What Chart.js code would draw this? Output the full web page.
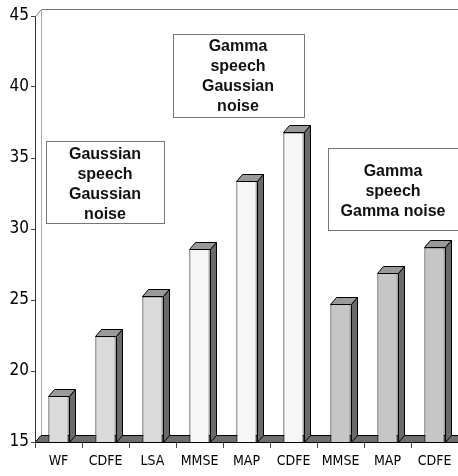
<!DOCTYPE html>
<html>
<head>
<meta charset="utf-8">
<script src="https://cdn.jsdelivr.net/npm/chart.js@4"></script>
<style>
  html, body { margin: 0; padding: 0; background: #ffffff; }
  #wrap { position: relative; width: 458px; height: 476px; }
</style>
</head>
<body>
<div id="wrap"><canvas id="c"></canvas></div>
<script>
// ---- data ----
const categories = ["WF", "CDFE", "LSA", "MMSE", "MAP", "CDFE", "MMSE", "MAP", "CDFE"];
const values = [18.25, 22.45, 25.25, 28.6, 33.4, 36.8, 24.7, 26.9, 28.7];
const groups = [0, 0, 0, 1, 1, 1, 2, 2, 2];
const yTicks = [15, 20, 25, 30, 35, 40, 45];
const box1Text = ["Gaussian", "speech", "Gaussian", "noise"];
const box2Text = ["Gamma", "speech", "Gaussian", "noise"];
const box3Text = ["Gamma", "speech", "Gamma noise"];

// ---- styles ----
const groupFill = ["#dadada", "#f6f6f6", "#c6c6c6"];
const DX = 6, DY = -7;

const threeD = {
  id: 'threeD',
  beforeDatasetsDraw(chart) {
    const ctx = chart.ctx, a = chart.chartArea;
    ctx.save();
    // back wall edges
    ctx.strokeStyle = '#777';
    ctx.lineWidth = 1;
    ctx.beginPath();
    ctx.moveTo(a.left + 0.5, a.top + 0.5);
    ctx.lineTo(a.left + DX + 0.5, a.top + DY + 0.5);
    ctx.lineTo(a.right + 10, a.top + DY + 0.5);
    ctx.stroke();
    ctx.strokeStyle = '#aaa';
    ctx.beginPath();
    ctx.moveTo(a.left + DX + 0.5, a.top + DY);
    ctx.lineTo(a.left + DX + 0.5, a.bottom + DY);
    ctx.stroke();
    // floor
    ctx.fillStyle = '#6f6f6f';
    ctx.strokeStyle = '#000';
    ctx.beginPath();
    ctx.moveTo(a.left, a.bottom + 0.5);
    ctx.lineTo(a.right + 10, a.bottom + 0.5);
    ctx.lineTo(a.right + 10, a.bottom + DY + 0.5);
    ctx.lineTo(a.left + DX, a.bottom + DY + 0.5);
    ctx.closePath();
    ctx.fill();
    ctx.stroke();
    ctx.restore();
  },
  afterDatasetsDraw(chart) {
    const ctx = chart.ctx, a = chart.chartArea;
    const meta = chart.getDatasetMeta(0);
    ctx.save();
    ctx.lineWidth = 1;
    ctx.strokeStyle = '#000';
    meta.data.forEach(bar => {
      const p = bar.getProps(['x', 'y', 'base', 'width'], true);
      const l = Math.round(p.x - p.width / 2) + 0.5;
      const r = Math.round(p.x + p.width / 2) + 0.5;
      const t = Math.round(p.y) + 0.5;
      const b = Math.round(Math.min(p.base, a.bottom)) + 0.5;
      // front outline bottom
      ctx.beginPath(); ctx.moveTo(l, b); ctx.lineTo(r, b); ctx.stroke();
      // top face
      ctx.fillStyle = '#9a9a9a';
      ctx.beginPath();
      ctx.moveTo(l, t); ctx.lineTo(r, t);
      ctx.lineTo(r + DX, t + DY); ctx.lineTo(l + DX, t + DY);
      ctx.closePath(); ctx.fill(); ctx.stroke();
      // side face
      ctx.fillStyle = '#6a6a6a';
      ctx.beginPath();
      ctx.moveTo(r, t); ctx.lineTo(r + DX, t + DY);
      ctx.lineTo(r + DX, b + DY); ctx.lineTo(r, b);
      ctx.closePath(); ctx.fill(); ctx.stroke();
    });
    ctx.restore();
  },
  afterDraw(chart) {
    const ctx = chart.ctx;
    ctx.save();
    const drawBox = (x, y, w, h, lines, cx, y0, step) => {
      ctx.fillStyle = '#fff';
      ctx.fillRect(x, y, w, h);
      ctx.strokeStyle = '#777';
      ctx.lineWidth = 1;
      ctx.strokeRect(x + 0.5, y + 0.5, w, h);
      ctx.fillStyle = '#111';
      ctx.font = 'bold 16px "Liberation Sans", Arial, sans-serif';
      ctx.textAlign = 'center';
      ctx.textBaseline = 'middle';
      lines.forEach((s, i) => ctx.fillText(s, cx, y0 + i * step));
    };
    drawBox(46, 141, 118, 82, box1Text, 105, 155, 19.7);
    drawBox(173, 34, 131, 83, box2Text, 238, 47, 20);
    drawBox(328, 148, 140, 82, box3Text, 393, 172, 19.7);
    ctx.restore();
  }
};

new Chart(document.getElementById('c'), {
  type: 'bar',
  data: {
    labels: categories,
    datasets: [{
      data: values,
      backgroundColor: groups.map(g => groupFill[g]),
      borderColor: '#000',
      borderWidth: 1,
      borderSkipped: false,
      barPercentage: 0.43,
      categoryPercentage: 1.0
    }]
  },
  options: {
    responsive: true,
    maintainAspectRatio: false,
    animation: false,
    events: [],
    layout: { padding: { top: 16, right: 0, left: 0, bottom: 0 } },
    plugins: { legend: { display: false }, tooltip: { enabled: false } },
    scales: {
      x: {
        offset: true,
        grid: { drawOnChartArea: false, drawTicks: true, tickLength: 6, color: '#444', offset: true },
        border: { display: false },
        ticks: {
          color: '#000', padding: 5, maxRotation: 0, autoSkip: false,
          font: { family: '"Liberation Sans Narrow", "DejaVu Sans Condensed", sans-serif', size: 14 }
        },
        afterFit(s) { s.height = 34; }
      },
      y: {
        min: 15, max: 45,
        afterBuildTicks(s) { s.ticks = yTicks.map(v => ({ value: v })); },
        grid: { drawOnChartArea: false, drawTicks: true, tickLength: 4, color: '#444' },
        border: { display: true, color: '#333', width: 1 },
        ticks: {
          color: '#000', padding: 2,
          font: { family: '"Liberation Sans Narrow", "DejaVu Sans Condensed", sans-serif', size: 17 }
        },
        afterFit(s) { s.width = 35; }
      }
    }
  },
  plugins: [threeD]
});
</script>
</body>
</html>
